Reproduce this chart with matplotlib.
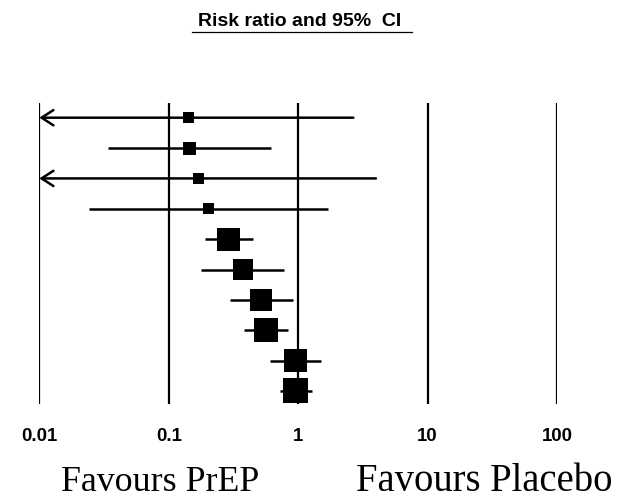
import matplotlib
matplotlib.use("Agg")
import matplotlib.pyplot as plt
from matplotlib.lines import Line2D
import numpy as np

# risk ratios with 95% CI, one row per study (top to bottom)
risk_ratio = [0.142, 0.144, 0.170, 0.202, 0.289, 0.372, 0.515, 0.560, 0.948, 0.948]
ci_lower = [0.002, 0.034, 0.002, 0.0243, 0.190, 0.179, 0.297, 0.385, 0.608, 0.718]
ci_upper = [2.67, 0.62, 3.99, 1.71, 0.447, 0.784, 0.92, 0.828, 1.50, 1.27]
weights = [3.3, 4.6, 3.3, 3.3, 14.4, 10.9, 13.2, 15.7, 14.4, 17.0]  # percent

tick_values = [0.01, 0.1, 1, 10, 100]
tick_labels = ["0.01", "0.1", "1", "10", "100"]

W, H = 630, 504
fig = plt.figure(figsize=(W / 100, H / 100), dpi=100)

# axes placed in pixels: 0.01 at x=39, 100 at x=557, rows span y=103..404
left, right, top, bottom = 39.3, 557.0, 103.0, 404.0
ax = fig.add_axes([left / W, 1 - bottom / H, (right - left) / W, (bottom - top) / H])
ax.set_xscale("log")
ax.set_xlim(tick_values[0], tick_values[-1])
n = len(risk_ratio)
rows = np.arange(1, n + 1)
ax.set_ylim(n + 0.43, 0.516)

for v in tick_values:
    ax.axvline(v, color="black", lw=1.6, zorder=1)

xmin = tick_values[0]
for y, lo, hi in zip(rows, ci_lower, ci_upper):
    if lo < xmin:
        # truncated interval: arrow pointing to the left edge
        ax.annotate("", xy=(xmin, y), xytext=(hi, y),
                    arrowprops=dict(arrowstyle="->,head_length=0.85,head_width=0.55",
                                    lw=1.8, color="black", shrinkA=0, shrinkB=0),
                    zorder=2)
    else:
        ax.hlines(y, lo, hi, color="black", lw=1.8, zorder=2)

side_px = 6.06 * np.sqrt(np.array(weights))
ax.scatter(risk_ratio, rows, marker="s", s=(side_px * 0.72) ** 2,
           color="black", linewidths=0, zorder=3)

ax.set_xticks(tick_values)
ax.set_xticklabels(tick_labels, fontsize=13.4, fontweight="bold", family="Liberation Sans")
ax.xaxis.set_minor_locator(matplotlib.ticker.NullLocator())
ax.tick_params(axis="x", length=0, pad=17.5)
ax.set_yticks([])
for s in ax.spines.values():
    s.set_visible(False)

# title with underline
fig.text(300 / W, 1 - 21.5 / H, "Risk ratio and 95%  CI", ha="center", va="center",
         fontsize=14, fontweight="bold", family="Liberation Sans")
fig.add_artist(Line2D([192 / W, 412 / W], [1 - 32 / H, 1 - 32 / H], color="black", lw=0.9))

fig.text(160 / W, 1 - 491 / H, "Favours PrEP", ha="center", va="baseline",
         fontsize=25.8, family="Liberation Serif")
fig.text(484 / W, 1 - 491 / H, "Favours Placebo", ha="center", va="baseline",
         fontsize=27.8, family="Liberation Serif")

fig.savefig("out.png", dpi=100)
